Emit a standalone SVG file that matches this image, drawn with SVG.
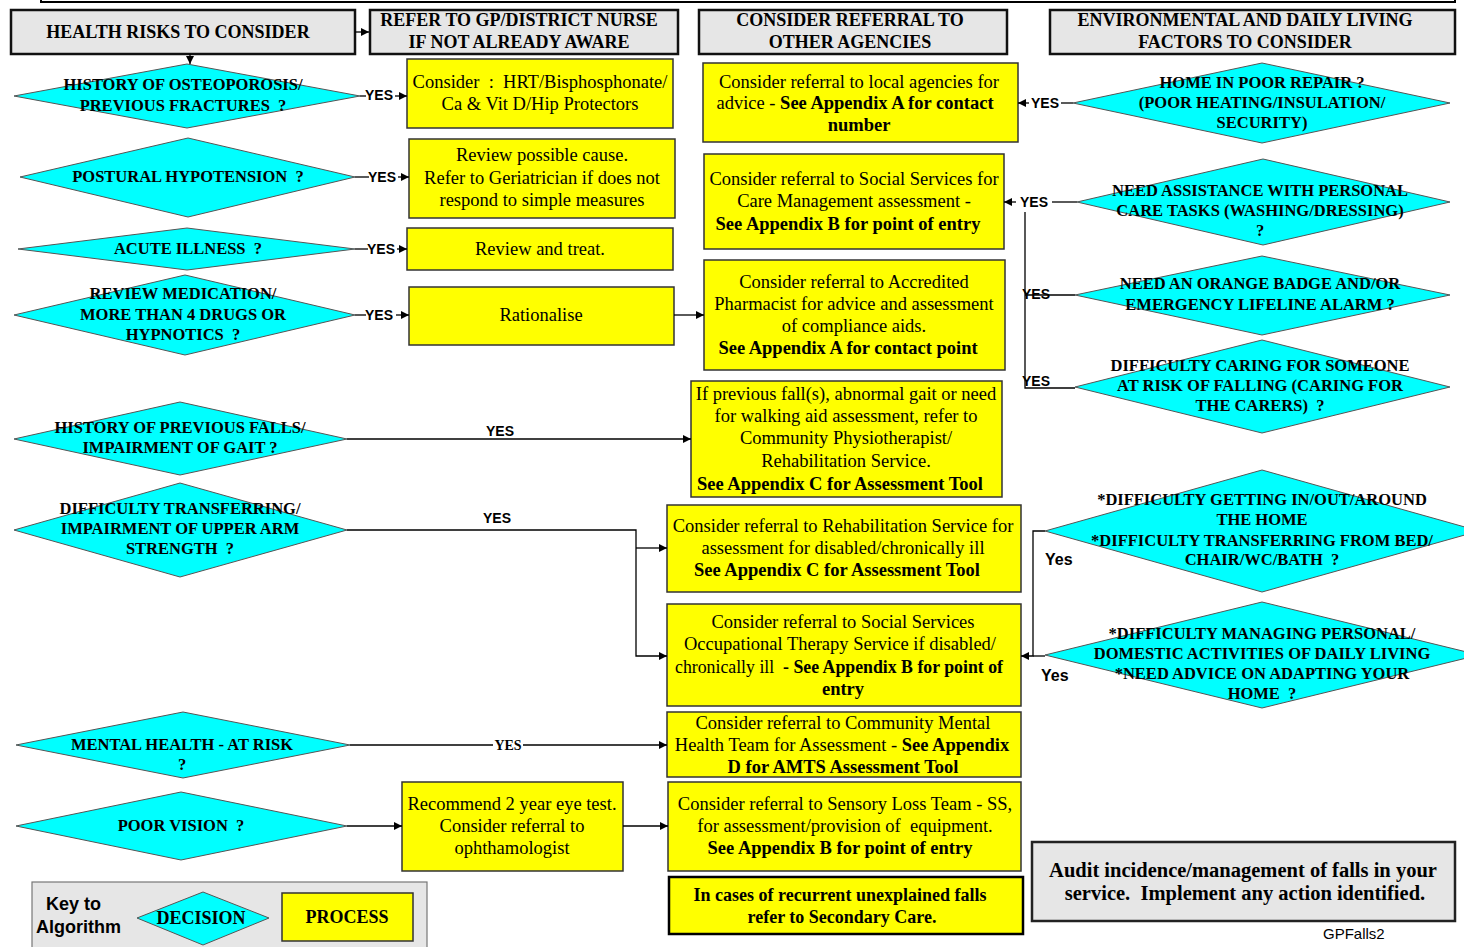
<svg xmlns="http://www.w3.org/2000/svg" width="1464" height="947" viewBox="0 0 1464 947">
<style>
.hdr{fill:#e6e6e6;stroke:#111;stroke-width:2.5}
.proc{fill:#ffff00;stroke:#333;stroke-width:1.5}
.dec{fill:#00ffff;stroke:#555;stroke-width:1}
.ht{font-family:"Liberation Serif",serif;font-weight:bold;font-size:18px;text-anchor:middle;fill:#000}
.pt{font-family:"Liberation Serif",serif;font-size:18.5px;text-anchor:middle;fill:#000}
.b{font-weight:bold}
.dt{font-family:"Liberation Serif",serif;font-weight:bold;font-size:16.5px;text-anchor:middle;fill:#000}
.yes{font-family:"Liberation Sans",Arial,sans-serif;font-weight:bold;font-size:14px;fill:#000}
.yes2{font-family:"Liberation Sans",Arial,sans-serif;font-weight:bold;font-size:16px;fill:#000}
.ln{fill:none;stroke:#000;stroke-width:1.3}
</style>
<defs>
<marker id="ah" markerUnits="userSpaceOnUse" markerWidth="9" markerHeight="9" refX="8" refY="4" orient="auto"><path d="M0,0 L8,4 L0,8 z" fill="#000"/></marker>
</defs>
<rect x="41" y="-30" width="1414" height="32" fill="none" stroke="#000" stroke-width="2"/>

<g id="h1"><rect class="hdr" x="11" y="10" width="344" height="44"/><text class="ht" x="178" y="38">HEALTH RISKS TO CONSIDER</text></g>
<g id="h2"><rect class="hdr" x="370" y="10" width="308" height="44"/><text class="ht" x="519" y="26">REFER TO GP/DISTRICT NURSE</text><text class="ht" x="519" y="48">IF NOT ALREADY AWARE</text></g>
<g id="h3"><rect class="hdr" x="699" y="10" width="308" height="44"/><text class="ht" x="850" y="26">CONSIDER REFERRAL TO</text><text class="ht" x="850" y="48">OTHER AGENCIES</text></g>
<g id="h4"><rect class="hdr" x="1050" y="10" width="405" height="44"/><text class="ht" x="1245" y="26">ENVIRONMENTAL AND DAILY LIVING</text><text class="ht" x="1245" y="48">FACTORS TO CONSIDER</text></g>

<g id="d1"><polygon class="dec" points="14,96 187,64 360,96 187,128"/><text class="dt" x="183" y="90">HISTORY OF OSTEOPOROSIS/</text><text class="dt" x="183" y="111">PREVIOUS FRACTURES &#160;?</text></g>
<g id="d2"><polygon class="dec" points="20,177 188,138 355,177 188,217"/><text class="dt" x="188" y="182">POSTURAL HYPOTENSION &#160;?</text></g>
<g id="d3"><polygon class="dec" points="18,249 187,228 355,249 187,270"/><text class="dt" x="188" y="254">ACUTE ILLNESS &#160;?</text></g>
<g id="d4"><polygon class="dec" points="14,315 185,275 355,315 185,355"/><text class="dt" x="183" y="299">REVIEW MEDICATION/</text><text class="dt" x="183" y="320">MORE THAN 4 DRUGS OR</text><text class="dt" x="183" y="340">HYPNOTICS &#160;?</text></g>
<g id="d5"><polygon class="dec" points="14,439 180,402 347,439 180,475"/><text class="dt" x="180" y="433">HISTORY OF PREVIOUS FALLS/</text><text class="dt" x="180" y="453">IMPAIRMENT OF GAIT ?</text></g>
<g id="d6"><polygon class="dec" points="14,530 180,483 347,530 180,577"/><text class="dt" x="180" y="514">DIFFICULTY TRANSFERRING/</text><text class="dt" x="180" y="534">IMPAIRMENT OF UPPER ARM</text><text class="dt" x="180" y="554">STRENGTH &#160;?</text></g>
<g id="d7"><polygon class="dec" points="16,745 183,712 350,745 183,778"/><text class="dt" x="182" y="750">MENTAL HEALTH - AT RISK</text><text class="dt" x="182" y="770">?</text></g>
<g id="d8"><polygon class="dec" points="16,826 181,792 347,826 181,860"/><text class="dt" x="181" y="831">POOR VISION &#160;?</text></g>

<g id="r1"><polygon class="dec" points="1073,103 1262,63 1450,103 1262,143"/><text class="dt" x="1262" y="88">HOME IN POOR REPAIR ?</text><text class="dt" x="1262" y="108">(POOR HEATING/INSULATION/</text><text class="dt" x="1262" y="128">SECURITY)</text></g>
<g id="r2"><polygon class="dec" points="1077,202 1263,159 1450,202 1263,245"/><text class="dt" x="1260" y="196">NEED ASSISTANCE WITH PERSONAL</text><text class="dt" x="1260" y="216">CARE TASKS (WASHING/DRESSING)</text><text class="dt" x="1260" y="236">?</text></g>
<g id="r3"><polygon class="dec" points="1075,295 1262,256 1450,295 1262,335"/><text class="dt" x="1260" y="289">NEED AN ORANGE BADGE AND/OR</text><text class="dt" x="1260" y="310">EMERGENCY LIFELINE ALARM ?</text></g>
<g id="r4"><polygon class="dec" points="1075,387 1262,340 1450,387 1262,433"/><text class="dt" x="1260" y="371">DIFFICULTY CARING FOR SOMEONE</text><text class="dt" x="1260" y="391">AT RISK OF FALLING (CARING FOR</text><text class="dt" x="1260" y="411">THE CARERS) &#160;?</text></g>
<g id="r5"><polygon class="dec" points="1045,531 1262,470 1479,531 1262,592"/><text class="dt" x="1262" y="505">*DIFFICULTY GETTING IN/OUT/AROUND</text><text class="dt" x="1262" y="525">THE HOME</text><text class="dt" x="1262" y="546">*DIFFICULTY TRANSFERRING FROM BED/</text><text class="dt" x="1262" y="565">CHAIR/WC/BATH &#160;?</text></g>
<g id="r6"><polygon class="dec" points="1045,655 1262,602 1479,655 1262,708"/><text class="dt" x="1262" y="639">*DIFFICULTY MANAGING PERSONAL/</text><text class="dt" x="1262" y="659">DOMESTIC ACTIVITIES OF DAILY LIVING</text><text class="dt" x="1262" y="679">*NEED ADVICE ON ADAPTING YOUR</text><text class="dt" x="1262" y="699">HOME &#160;?</text></g>

<g id="p1"><rect class="proc" x="407" y="59" width="266" height="69"/><text class="pt" x="540" y="88">Consider &#160;: &#160;HRT/Bisphosphonate/</text><text class="pt" x="540" y="110">Ca &amp; Vit D/Hip Protectors</text></g>
<g id="p2"><rect class="proc" x="409" y="139" width="266" height="79"/><text class="pt" x="542" y="161">Review possible cause.</text><text class="pt" x="542" y="184">Refer to Geriatrician if does not</text><text class="pt" x="542" y="206">respond to simple measures</text></g>
<g id="p3"><rect class="proc" x="407" y="228" width="266" height="42"/><text class="pt" x="540" y="255">Review and treat.</text></g>
<g id="p4"><rect class="proc" x="409" y="287" width="265" height="58"/><text class="pt" x="541" y="321">Rationalise</text></g>
<g id="p5"><rect class="proc" x="704" y="260" width="301" height="110"/><text class="pt" x="854" y="288">Consider referral to Accredited</text><text class="pt" x="854" y="310">Pharmacist for advice and assessment</text><text class="pt" x="854" y="332">of compliance aids.</text><text class="pt b" x="848" y="354">See Appendix A for contact point</text></g>
<g id="p6"><rect class="proc" x="703" y="63" width="315" height="79"/><text class="pt" x="859" y="88">Consider referral to local agencies for</text><text class="pt" x="855" y="109">advice - <tspan class="b">See Appendix A for contact</tspan></text><text class="pt b" x="859" y="131">number</text></g>
<g id="p7"><rect class="proc" x="704" y="154" width="300" height="95"/><text class="pt" x="854" y="185">Consider referral to Social Services for</text><text class="pt" x="854" y="207">Care Management assessment -</text><text class="pt b" x="848" y="230">See Appendix B for point of entry</text></g>
<g id="p8"><rect class="proc" x="691" y="381" width="311" height="116"/><text class="pt" x="846" y="400">If previous fall(s), abnormal gait or need</text><text class="pt" x="846" y="422">for walking aid assessment, refer to</text><text class="pt" x="846" y="444">Community Physiotherapist/</text><text class="pt" x="846" y="467">Rehabilitation Service.</text><text class="pt b" x="840" y="490">See Appendix C for Assessment Tool</text></g>
<g id="p9"><rect class="proc" x="667" y="505" width="354" height="87"/><text class="pt" x="843" y="532">Consider referral to Rehabilitation Service for</text><text class="pt" x="843" y="554">assessment for disabled/chronically ill</text><text class="pt b" x="837" y="576">See Appendix C for Assessment Tool</text></g>
<g id="p10"><rect class="proc" x="667" y="604" width="354" height="102"/><text class="pt" x="843" y="628">Consider referral to Social Services</text><text class="pt" x="840" y="650">Occupational Therapy Service if disabled/</text><text class="pt" x="839" y="673" textLength="328" lengthAdjust="spacingAndGlyphs">chronically ill &#160;<tspan class="b">- See Appendix B for point of</tspan></text><text class="pt b" x="843" y="695">entry</text></g>
<g id="p11"><rect class="proc" x="667" y="712" width="354" height="65"/><text class="pt" x="843" y="729">Consider referral to Community Mental</text><text class="pt" x="842" y="751">Health Team for Assessment - <tspan class="b">See Appendix</tspan></text><text class="pt b" x="843" y="773">D for AMTS Assessment Tool</text></g>
<g id="p12"><rect class="proc" x="402" y="782" width="221" height="89"/><text class="pt" x="512" y="810">Recommend 2 year eye test.</text><text class="pt" x="512" y="832">Consider referral to</text><text class="pt" x="512" y="854">ophthamologist</text></g>
<g id="p13"><rect class="proc" x="668" y="782" width="353" height="89"/><text class="pt" x="845" y="810">Consider referral to Sensory Loss Team - SS,</text><text class="pt" x="845" y="832">for assessment/provision of &#160;equipment.</text><text class="pt b" x="840" y="854">See Appendix B for point of entry</text></g>
<g id="p14"><rect x="669" y="877" width="354" height="57" fill="#ffff00" stroke="#000" stroke-width="2.5"/><text class="ht" x="840" y="901">In cases of recurrent unexplained falls</text><text class="ht" x="842" y="923">refer to Secondary Care.</text></g>

<g id="audit"><rect x="1032" y="842" width="423" height="79" fill="#e6e6e6" stroke="#222" stroke-width="2.5"/><text class="ht" x="1243" y="877" style="font-size:20.5px">Audit incidence/management of falls in your</text><text class="ht" x="1245" y="900" style="font-size:20.5px">service. &#160;Implement any action identified.</text></g>

<g id="key"><rect x="32" y="882" width="395" height="80" fill="#e6e6e6" stroke="#777" stroke-width="1.2"/><text class="yes" x="46" y="910" style="font-size:18px">Key to</text><text class="yes" x="36" y="933" style="font-size:18px">Algorithm</text><polygon class="dec" points="137,918 203,892 269,918 203,945"/><text class="ht" x="201" y="924">DECISION</text><rect class="proc" x="282" y="893" width="131" height="48"/><text class="ht" x="347" y="923">PROCESS</text></g>

<text x="1323" y="939" style="font-family:'Liberation Sans',Arial,sans-serif;font-size:15px;fill:#000">GPFalls2</text>

<g id="connectors">
<line class="ln" x1="355" y1="32" x2="369" y2="32" marker-end="url(#ah)"/>
<line class="ln" x1="190" y1="54" x2="190" y2="64" marker-end="url(#ah)"/>
<line class="ln" x1="360" y1="96" x2="366" y2="96"/><text class="yes" x="365" y="100">YES</text><line class="ln" x1="395" y1="96" x2="407" y2="96" marker-end="url(#ah)"/>
<line class="ln" x1="355" y1="177" x2="369" y2="177"/><text class="yes" x="368" y="182">YES</text><line class="ln" x1="398" y1="177" x2="409" y2="177" marker-end="url(#ah)"/>
<line class="ln" x1="355" y1="249" x2="368" y2="249"/><text class="yes" x="367" y="254">YES</text><line class="ln" x1="397" y1="249" x2="407" y2="249" marker-end="url(#ah)"/>
<line class="ln" x1="355" y1="315" x2="366" y2="315"/><text class="yes" x="365" y="320">YES</text><line class="ln" x1="396" y1="315" x2="409" y2="315" marker-end="url(#ah)"/>
<line class="ln" x1="674" y1="315" x2="704" y2="315" marker-end="url(#ah)"/>
<line class="ln" x1="347" y1="439" x2="691" y2="439" marker-end="url(#ah)"/><text class="yes" x="500" y="436" text-anchor="middle">YES</text>
<polyline class="ln" points="347,530 636,530 636,656 667,656" marker-end="url(#ah)"/><line class="ln" x1="636" y1="548" x2="667" y2="548" marker-end="url(#ah)"/><text class="yes" x="497" y="523" text-anchor="middle">YES</text>
<line class="ln" x1="350" y1="745" x2="493" y2="745"/><text x="508" y="750" text-anchor="middle" style="font-family:'Liberation Serif',serif;font-weight:bold;font-size:14px">YES</text><line class="ln" x1="523" y1="745" x2="667" y2="745" marker-end="url(#ah)"/>
<line class="ln" x1="347" y1="826" x2="402" y2="826" marker-end="url(#ah)"/>
<line class="ln" x1="623" y1="826" x2="668" y2="826" marker-end="url(#ah)"/>
<line class="ln" x1="1073" y1="103" x2="1061" y2="103"/><text class="yes" x="1031" y="108">YES</text><line class="ln" x1="1029" y1="103" x2="1018" y2="103" marker-end="url(#ah)"/>
<line class="ln" x1="1077" y1="202" x2="1052" y2="202"/><text class="yes" x="1020" y="207">YES</text><line class="ln" x1="1016" y1="202" x2="1004" y2="202" marker-end="url(#ah)"/>
<polyline class="ln" points="1025,212 1025,388 1075,388"/><line class="ln" x1="1025" y1="295" x2="1075" y2="295"/>
<text class="yes" x="1022" y="299">YES</text><text class="yes" x="1022" y="386">YES</text>
<polyline class="ln" points="1045,531 1033,531 1033,656 1021,656" marker-end="url(#ah)"/><line class="ln" x1="1045" y1="656" x2="1033" y2="656"/>
<text class="yes2" x="1045" y="565">Yes</text><text class="yes2" x="1041" y="681">Yes</text>
</g>
</svg>
